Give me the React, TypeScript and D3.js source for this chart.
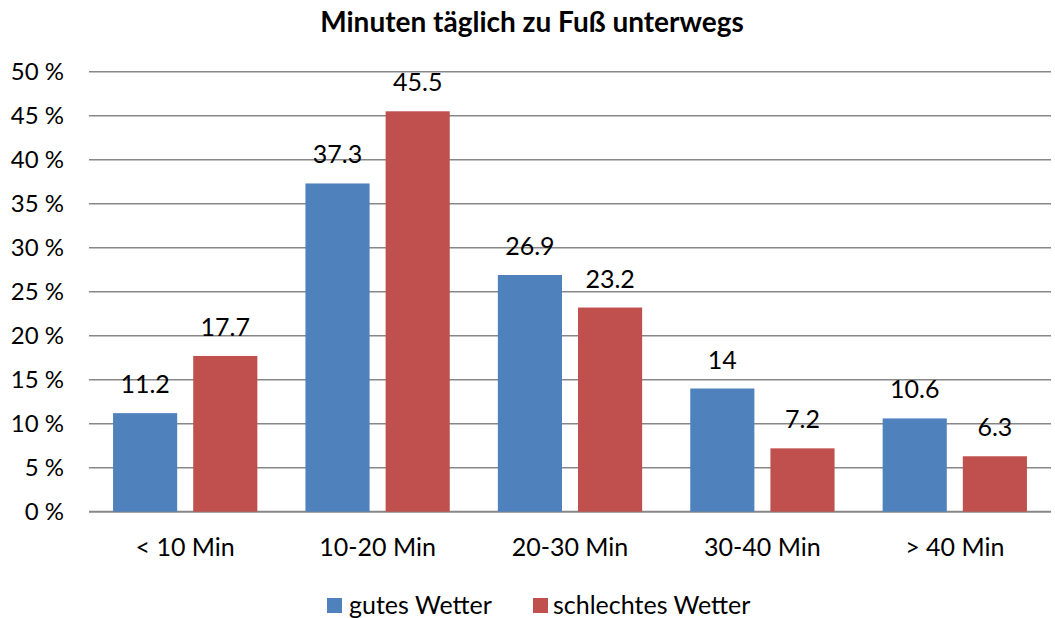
import React from "react"
import * as d3 from "d3"

const categories = ["< 10 Min", "10-20 Min", "20-30 Min", "30-40 Min", "> 40 Min"]
const seriesNames = ["gutes Wetter", "schlechtes Wetter"]
const gutesWetter = [11.2, 37.3, 26.9, 14, 10.6]
const schlechtesWetter = [17.7, 45.5, 23.2, 7.2, 6.3]
const yTicks = [0, 5, 10, 15, 20, 25, 30, 35, 40, 45, 50]
const colors = ["#4F81BD", "#C0504D"]

const width = 1055
const height = 618
const font = "Lato, 'Open Sans', sans-serif"

export default function App() {
  const values = [gutesWetter, schlechtesWetter]

  const x = d3.scaleBand<string>().domain(categories).range([89, 1051])
  const bw = x.bandwidth()
  const x1 = d3
    .scaleBand<string>()
    .domain(seriesNames)
    .range([bw * 0.125, bw * 0.875])
    .paddingInner(0.2)
  const y = d3.scaleLinear().domain([0, 50]).range([511.7, 71.7])

  return (
    <div style={{ position: "absolute", left: 0, top: 0 }}>
      <svg width={width} height={height} style={{ display: "block" }}>
        <rect width={width} height={height} fill="#fff" />
        <text x={532} y={32} textAnchor="middle" fontFamily={font} fontWeight="bold" fontSize={28} fill="#000">
          Minuten täglich zu Fuß unterwegs
        </text>

        {/* gitterlinien + y-achse */}
        {yTicks.map((t) => (
          <g key={t}>
            <line x1={89} x2={1051} y1={y(t)} y2={y(t)} stroke="#878787" strokeWidth={t === 0 ? 2 : 1.5} />
            <text x={64} y={y(t) + 8.5} textAnchor="end" fontFamily={font} fontSize={24} fill="#000">
              {t} %
            </text>
          </g>
        ))}

        {/* balken */}
        {categories.map((c, i) => (
          <g key={c} transform={`translate(${x(c)},0)`}>
            {seriesNames.map((s, j) => {
              const v = values[j][i]
              const bx = x1(s)!
              return (
                <g key={s}>
                  <rect x={bx} y={y(v)} width={x1.bandwidth()} height={y(0) - y(v)} fill={colors[j]} />
                  <text x={bx + x1.bandwidth() / 2} y={y(v) - 20} textAnchor="middle" fontFamily={font} fontSize={25} fill="#000">
                    {v}
                  </text>
                </g>
              )
            })}
            <text x={bw / 2} y={556} textAnchor="middle" fontFamily={font} fontSize={25} fill="#000">
              {c}
            </text>
          </g>
        ))}

        {/* legende */}
        <rect x={327} y={598} width={15} height={15} fill={colors[0]} />
        <text x={349} y={614} fontFamily={font} fontSize={25} fill="#000">
          {seriesNames[0]}
        </text>
        <rect x={533} y={598} width={15} height={15} fill={colors[1]} />
        <text x={553} y={614} fontFamily={font} fontSize={25} fill="#000">
          {seriesNames[1]}
        </text>
      </svg>
    </div>
  )
}
